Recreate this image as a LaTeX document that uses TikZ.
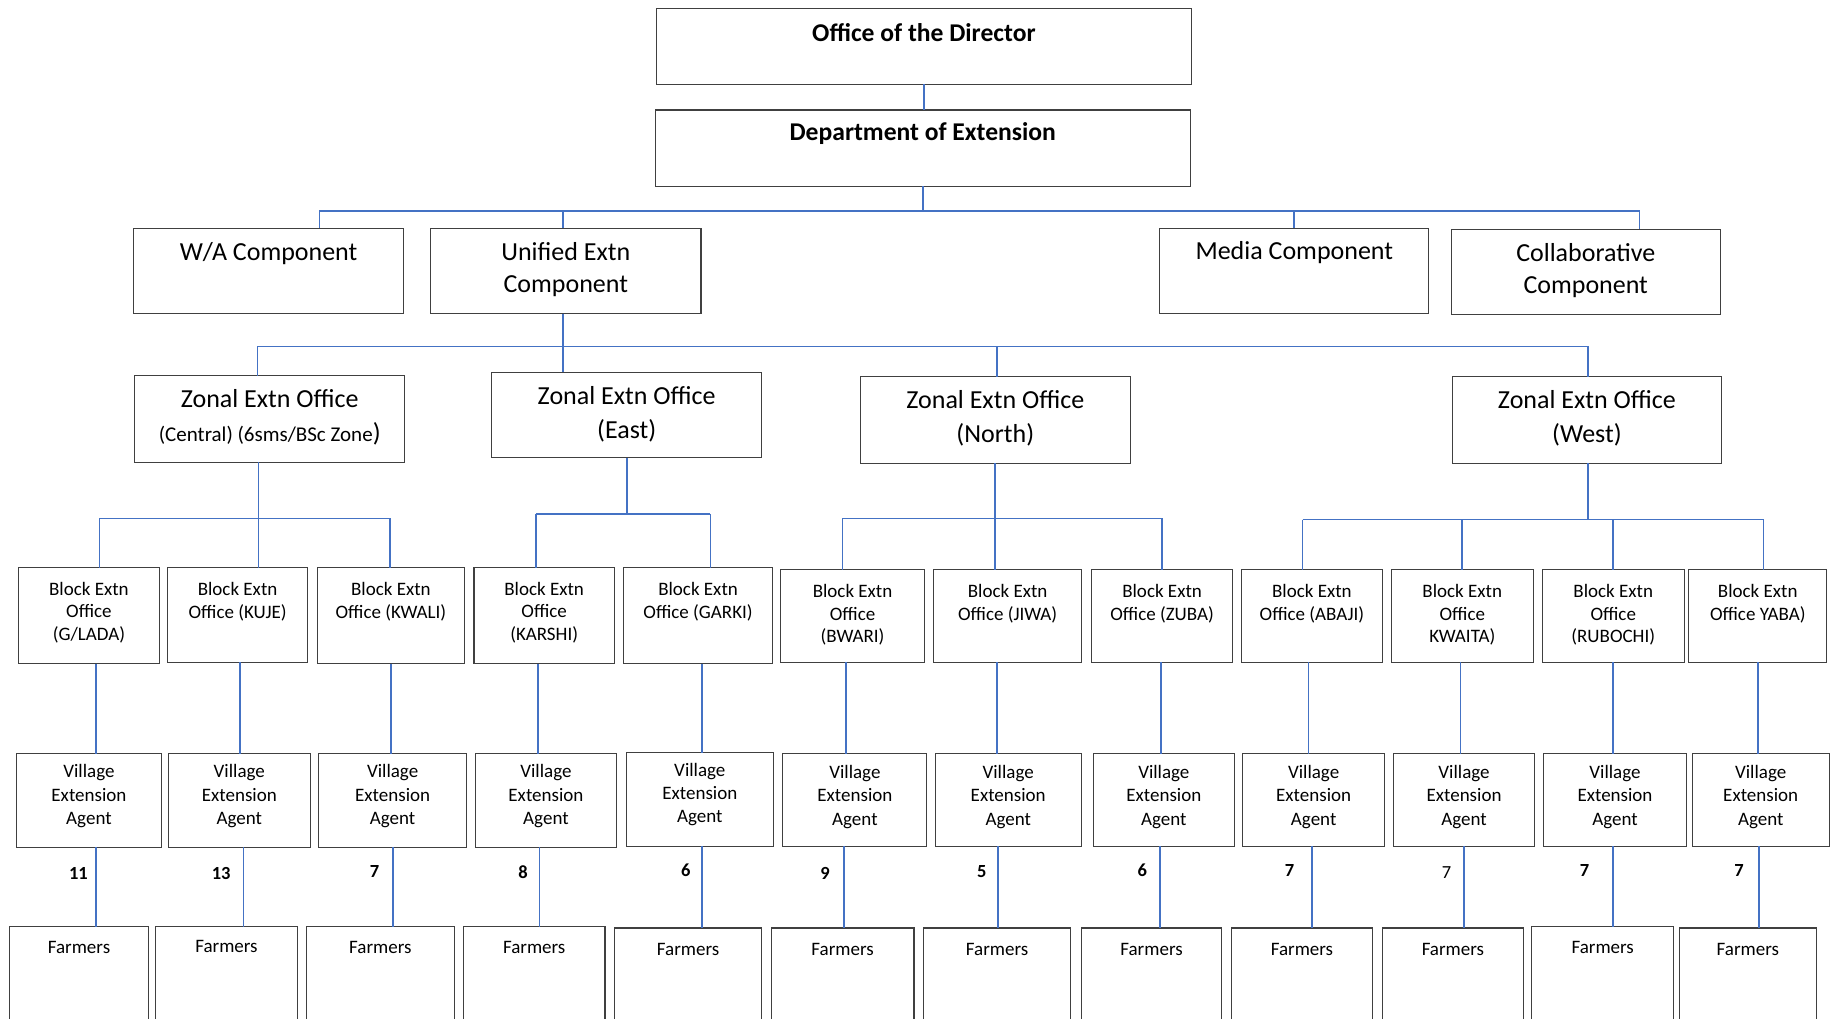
\documentclass[tikz,border=0pt]{standalone}
\usepackage{fontspec}
\setmainfont{Carlito}
\definecolor{conncol}{RGB}{68,114,196}
\definecolor{boxcol}{RGB}{64,64,64}
\tikzset{
  box/.style={draw=boxcol, line width=1.1pt, fill=white, inner sep=0pt, outer sep=0pt},
  conn/.style={draw=conncol, line width=1.7pt},
  ttl/.style={inner sep=0pt, font=\fontsize{25.6}{31}\selectfont\bfseries},
  comp/.style={inner sep=0pt, align=center, font=\fontsize{26}{32}\selectfont},
  zon/.style={inner sep=0pt, align=center, font=\fontsize{26}{34}\selectfont},
  blk/.style={inner sep=0pt, align=center, font=\fontsize{19}{22.4}\selectfont},
  vea/.style={inner sep=0pt, align=center, font=\fontsize{19}{23.4}\selectfont},
  frm/.style={inner sep=0pt, font=\fontsize{19}{22}\selectfont},
  numb/.style={inner sep=0pt, font=\fontsize{18.5}{22}\selectfont\bfseries},
  numr/.style={inner sep=0pt, font=\fontsize{18.5}{22}\selectfont}
}
% name, x1, y1, x2, y2, text-y, text style, text
\newcommand\ob[8]{%
  \node[box, minimum width={(#4-#2)*1.17028pt}, minimum height={(#5-#3)*1.17028pt}] (#1) at ({(#2+#4)/2},{(#3+#5)/2}) {};
  \node[#7] (#1-t) at ({(#2+#4)/2},#6) {#8};
}
\begin{document}
\begin{tikzpicture}[x=1.17028pt, y=-1.17028pt]
\useasboundingbox (0,0) rectangle (1568,870.7);
\clip (0,0) rectangle (1568,870.7);
\fill[white] (0,0) rectangle (1568,870.7);

% top levels
\ob{office}{561}{7}{1018}{72}{28}{ttl}{Office of the Director}
\ob{dept}{560}{94}{1017}{159}{114.5}{ttl}{Department of Extension}

\ob{wa}{114}{195}{345}{268}{217}{comp}{W/A Component}
\ob{uni}{368}{195}{599}{268}{230.5}{comp}{Unified Extn\\Component}
\ob{med}{991}{195}{1221}{268}{216}{comp}{Media Component}
\ob{col}{1240}{196}{1470}{269}{231.5}{comp}{Collaborative\\Component}

\ob{zc}{115}{321}{346}{395}{356.5}{zon}{Zonal Extn Office\\{\fontsize{21}{26}\selectfont(Central) (6sms/BSc Zone})}
\ob{ze}{420}{318}{651}{391}{354}{zon}{Zonal Extn Office\\(East)}
\ob{zn}{735}{322}{966}{396}{357}{zon}{Zonal Extn Office\\(North)}
\ob{zw}{1241}{322}{1471}{396}{357}{zon}{Zonal Extn Office\\(West)}

% block offices
\ob{b1}{16}{485}{136}{567}{523.5}{blk}{Block Extn\\Office\\(G/LADA)}
\ob{b2}{143}{485}{263}{566}{514}{blk}{Block Extn\\Office (KUJE)}
\ob{b3}{271}{485}{397}{567}{514}{blk}{Block Extn\\Office (KWALI)}
\ob{b4}{405}{485}{525}{567}{523.5}{blk}{Block Extn\\Office\\(KARSHI)}
\ob{b5}{533}{485}{660}{567}{514}{blk}{Block Extn\\Office (GARKI)}
\ob{b6}{667}{487}{790}{566}{525.5}{blk}{Block Extn\\Office\\(BWARI)}
\ob{b7}{798}{487}{924}{566}{516}{blk}{Block Extn\\Office (JIWA)}
\ob{b8}{933}{487}{1053}{566}{516}{blk}{Block Extn\\Office (ZUBA)}
\ob{b9}{1061}{487}{1181}{566}{516}{blk}{Block Extn\\Office (ABAJI)}
\ob{b10}{1189}{487}{1310}{566}{525.5}{blk}{Block Extn\\Office\\KWAITA)}
\ob{b11}{1318}{487}{1439}{566}{525.5}{blk}{Block Extn\\Office\\(RUBOCHI)}
\ob{b12}{1443}{487}{1561}{566}{516}{blk}{Block Extn\\Office YABA)}

% village extension agents
\ob{v1}{14}{644}{138}{724}{680.5}{vea}{Village\\Extension\\Agent}
\ob{v2}{144}{644}{265}{724}{680.5}{vea}{Village\\Extension\\Agent}
\ob{v3}{272}{644}{399}{724}{680.5}{vea}{Village\\Extension\\Agent}
\ob{v4}{406}{644}{527}{724}{680.5}{vea}{Village\\Extension\\Agent}
\ob{v5}{535}{643}{661}{723}{679}{vea}{Village\\Extension\\Agent}
\ob{v6}{669}{644}{792}{723}{681}{vea}{Village\\Extension\\Agent}
\ob{v7}{799}{644}{924}{723}{681}{vea}{Village\\Extension\\Agent}
\ob{v8}{934}{644}{1055}{723}{681}{vea}{Village\\Extension\\Agent}
\ob{v9}{1062}{644}{1183}{723}{681}{vea}{Village\\Extension\\Agent}
\ob{v10}{1191}{644}{1311}{723}{681}{vea}{Village\\Extension\\Agent}
\ob{v11}{1319}{644}{1441}{723}{681}{vea}{Village\\Extension\\Agent}
\ob{v12}{1446}{644}{1563}{723}{681}{vea}{Village\\Extension\\Agent}

% farmers
\ob{f1}{8}{792}{127}{900}{810}{frm}{Farmers}
\ob{f2}{133}{792}{254}{900}{809}{frm}{Farmers}
\ob{f3}{262}{792}{388}{900}{810}{frm}{Farmers}
\ob{f4}{396}{792}{517}{900}{810}{frm}{Farmers}
\ob{f5}{525}{793}{651}{900}{811}{frm}{Farmers}
\ob{f6}{659}{793}{781}{900}{811}{frm}{Farmers}
\ob{f7}{789}{793}{915}{900}{811}{frm}{Farmers}
\ob{f8}{924}{793}{1044}{900}{811}{frm}{Farmers}
\ob{f9}{1052}{793}{1173}{900}{811}{frm}{Farmers}
\ob{f10}{1181}{793}{1302}{900}{811}{frm}{Farmers}
\ob{f11}{1309}{792}{1430}{900}{810}{frm}{Farmers}
\ob{f12}{1435}{793}{1552}{900}{811}{frm}{Farmers}

% counts
\node[numb] (n1) at (67,746) {11};
\node[numb] (n2) at (189,746) {13};
\node[numb] (n3) at (320,745) {7};
\node[numb] (n4) at (447,745) {8};
\node[numb] (n5) at (586,744) {6};
\node[numb] (n6) at (705,746) {9};
\node[numb] (n7) at (839,745) {5};
\node[numb] (n8) at (976,744) {6};
\node[numb] (n9) at (1102,744) {7};
\node[numr] (n10) at (1236,746) {7};
\node[numb] (n11) at (1354,744) {7};
\node[numb] (n12) at (1486,744) {7};

% connectors: level 0-1
\draw[conn] (office.south) -- (office.south |- dept.north);
\coordinate (j1) at (788,180);
\coordinate (dwa) at (273,180);
\coordinate (duni) at (481,180);
\coordinate (dmed) at (1106,180);
\coordinate (dcol) at (1401,180);
\draw[conn] (dept.south) -- (dept.south |- j1);
\draw[conn] (dwa) -- (dcol);
\draw[conn] (dwa) -- (dwa |- wa.north);
\draw[conn] (duni) -- (duni |- uni.north);
\draw[conn] (dmed) -- (dmed |- med.north);
\draw[conn] (dcol) -- (dcol |- col.north);

% level 2
\coordinate (j2) at (481,296);
\coordinate (dzc) at (220,296);
\coordinate (dze) at (481,296);
\coordinate (dzn) at (852,296);
\coordinate (dzw) at (1357,296);
\draw[conn] (j2 |- uni.south) -- (j2);
\draw[conn] (dzc) -- (dzw);
\draw[conn] (dzc) -- (dzc |- zc.north);
\draw[conn] (dze) -- (dze |- ze.north);
\draw[conn] (dzn) -- (dzn |- zn.north);
\draw[conn] (dzw) -- (dzw |- zw.north);

% level 3: central
\coordinate (jc) at (221,443);
\draw[conn] (jc |- zc.south) -- (jc);
\coordinate (db1) at (85,443);
\coordinate (db2) at (221,443);
\coordinate (db3) at (333,443);
\draw[conn] (db1) -- (db3);
% east
\coordinate (je) at (536,439);
\draw[conn] (je |- ze.south) -- (je);
\coordinate (db4) at (458,439);
\coordinate (db5) at (607,439);
\draw[conn] (db4) -- (db5);
% north
\coordinate (jn) at (850,443);
\draw[conn] (jn |- zn.south) -- (jn);
\coordinate (db6) at (720,443);
\coordinate (db7) at (850,443);
\coordinate (db8) at (993,443);
\draw[conn] (db6) -- (db8);
% west
\coordinate (jw) at (1357,444);
\draw[conn] (jw |- zw.south) -- (jw);
\coordinate (db9) at (1113,444);
\coordinate (db10) at (1249,444);
\coordinate (db11) at (1378,444);
\coordinate (db12) at (1507,444);
\draw[conn] (db9) -- (db12);
\foreach \i in {1,...,12} {
  \draw[conn] (db\i) -- (db\i |- b\i.north);
}

% block -> village agent
\foreach \i/\x in {1/82,2/205,3/334,4/460,5/600,6/723,7/852,8/992,9/1118,10/1248,11/1378,12/1502} {
  \coordinate (bv\i) at (\x,600);
  \draw[conn] (bv\i |- b\i.south) -- (bv\i |- v\i.north);
}
% village agent -> farmers
\foreach \i/\x in {1/82,2/208,3/336,4/461,5/600,6/721,7/853,8/991,9/1121,10/1251,11/1378,12/1503} {
  \coordinate (vf\i) at (\x,760);
  \draw[conn] (vf\i |- v\i.south) -- (vf\i |- f\i.north);
}
\end{tikzpicture}
\end{document}
